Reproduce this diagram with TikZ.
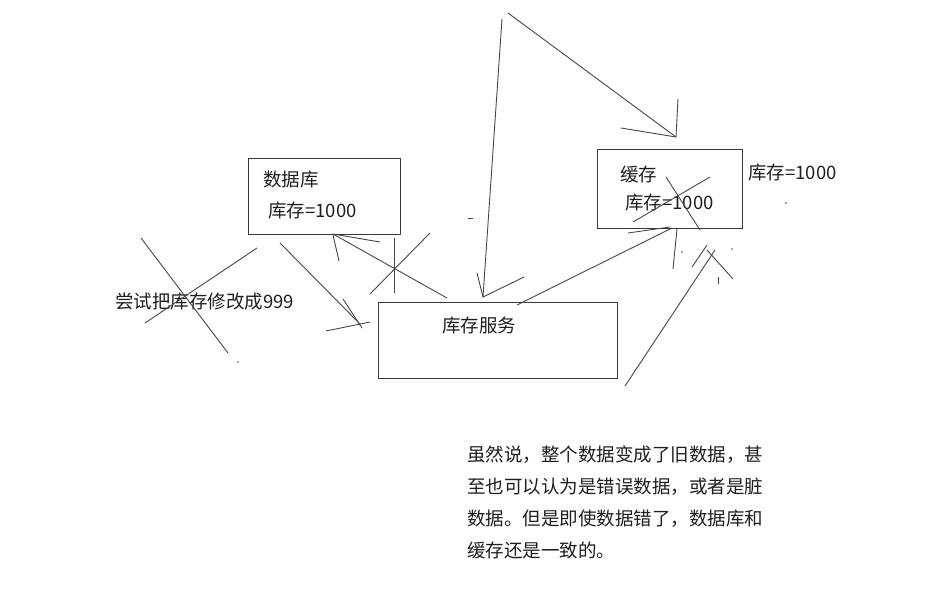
\documentclass[tikz,border=0pt]{standalone}
\usepackage{fontspec}
\newfontfamily\cjk{Noto Sans CJK SC}
\begin{document}
\begin{tikzpicture}[x=1pt,y=-1pt,
  box/.style={draw=black!78,line width=1.1pt,anchor=north west,inner sep=0},
  stroke/.style={draw=black!72,line width=0.9pt},
  lbl/.style={anchor=west,inner sep=0,font=\cjk\fontsize{18.5}{32}\selectfont,text=black!88},
  para/.style={anchor=north west,inner sep=0,align=left,font=\cjk\fontsize{18.5}{31.7}\selectfont,text=black!88}]
\useasboundingbox[fill=white] (0,0) rectangle (946,592);
% boxes
\node[box,minimum width=152,minimum height=76] (db) at (248,158) {};
\node[box,minimum width=145,minimum height=79] (cache) at (597,149) {};
\node[box,minimum width=239,minimum height=76] (svc) at (378,302) {};
% labels
\node[lbl] (dbname) at (263,180) {数据库};
\node[lbl] (dbval) at (268,211) {库存=1000};
\node[lbl] (cname) at (620,174) {缓存};
\node[lbl] (cval) at (625,203) {库存=1000};
\node[lbl] (cside) at (748,173) {库存=1000};
\node[lbl] (svcname) at (442,326) {库存服务};
\node[lbl] (try) at (115,302) {尝试把库存修改成999};
\node[para] (note) at (467,446) {虽然说，整个数据变成了旧数据，甚\\至也可以认为是错误数据，或者是脏\\数据。但是即使数据错了，数据库和\\缓存还是一致的。};
% left crossed-out stroke
\draw[stroke] (141,238) -- (228,353);
\draw[stroke] (257,248) -- (145,323);
\fill[black!70] (238,362) circle (0.8);
% arrow db -> service
\draw[stroke] (280,243) -- (360,324);
\draw[stroke] (343,299) -- (362,328);
\draw[stroke] (326,331) -- (370,322);
% service -> db with arrow
\draw[stroke] (447,298) -- (333,234);
\draw[stroke] (333,234) -- (380,242);
\draw[stroke] (333,235) -- (339,261);
% X cross
\draw[stroke] (394,238) -- (394,293);
\draw[stroke] (430,233) -- (370,294);
% top long arrow to service
\draw[stroke] (502,19) -- (483,297);
\draw[stroke] (477,273) -- (483,297) -- (524,277);
% top arrow to cache
\draw[stroke] (508,13) -- (676,137);
\draw[stroke] (678,99) -- (676,137) -- (621,128);
\draw[stroke] (468,218) -- (473,218);
% service -> cache
\draw[stroke] (517,305) -- (672,228);
\draw[stroke] (628,233) -- (670,227);
% cross on cache value
\draw[stroke] (666,177) -- (700,230);
\draw[stroke] (633,222) -- (710,177);
% strokes below cache
\draw[stroke] (677,229) -- (673,269);
\fill[black!70] (682,252) circle (0.8);
\draw[stroke] (707,245) -- (692,267);
\draw[stroke] (625,386) -- (715,250);
\draw[stroke] (707,250) -- (733,279);
\draw[stroke] (718,277) -- (718,284);
\fill[black!70] (732,249) circle (0.8);
\fill[black!70] (786,203) circle (0.8);
\end{tikzpicture}
\end{document}
